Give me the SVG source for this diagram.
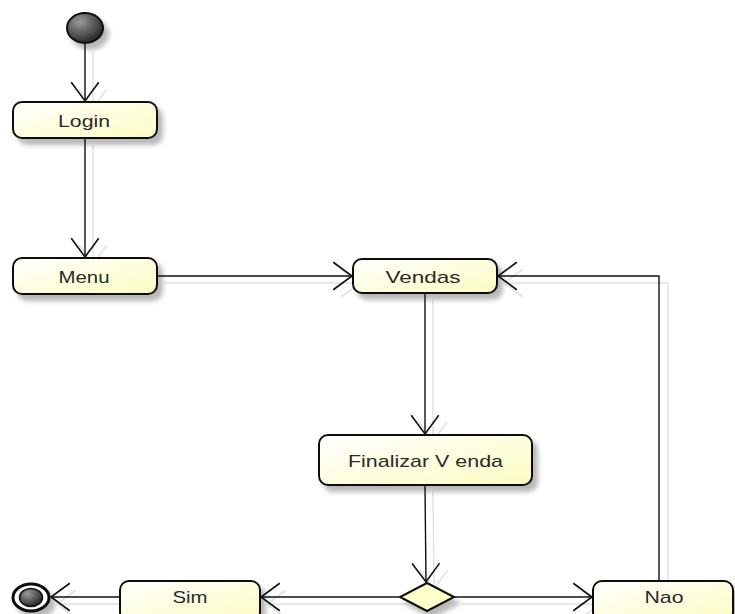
<svg xmlns="http://www.w3.org/2000/svg" width="735" height="614" viewBox="0 0 735 614">
<defs>
<linearGradient id="boxg" x1="0" y1="0" x2="1" y2="1">
<stop offset="0" stop-color="#ffffff"/>
<stop offset="0.5" stop-color="#fefee0"/>
<stop offset="1" stop-color="#fbfbc4"/>
</linearGradient>
<radialGradient id="ballg" cx="0.35" cy="0.3" r="0.8">
<stop offset="0" stop-color="#9a9a9a"/>
<stop offset="1" stop-color="#1a1a1a"/>
</radialGradient>
<filter id="sh" x="-20%" y="-30%" width="150%" height="180%">
<feGaussianBlur in="SourceAlpha" stdDeviation="2.5"/>
<feOffset dx="5" dy="6" result="b"/>
<feComponentTransfer><feFuncA type="linear" slope="0.28"/></feComponentTransfer>
<feMerge><feMergeNode/><feMergeNode in="SourceGraphic"/></feMerge>
</filter>
<marker id="arr" markerUnits="userSpaceOnUse" markerWidth="30" markerHeight="30" viewBox="-16 -12 18 24" refX="0" refY="0" orient="auto">
<path d="M-15,-11 L0,0 L-15,11" fill="none" stroke="#111" stroke-width="1.3"/>
</marker>
<marker id="arrs" markerUnits="userSpaceOnUse" markerWidth="30" markerHeight="30" viewBox="-16 -12 18 24" refX="0" refY="0" orient="auto">
<path d="M-15,-11 L0,0 L-15,11" fill="none" stroke="#e2e2e2" stroke-width="1.3"/>
</marker>
</defs>
<style>
.box{fill:url(#boxg);stroke:#111;stroke-width:2;filter:url(#sh)}
.lbl{font-family:"Liberation Sans",Arial,sans-serif;font-size:17px;fill:#2a2a2a;text-anchor:middle}
.c{fill:none;stroke:#111;stroke-width:1.4;marker-end:url(#arr)}
.cs{fill:none;stroke:#e0e0e0;stroke-width:1.4;marker-end:url(#arrs)}
</style>
<rect width="735" height="614" fill="#fff"/>
<g id="connector-shadows">
<path class="cs" d="M93,52 L93,108"/>
<path class="cs" d="M93,145 L93,264"/>
<path class="cs" d="M164,283 L360,283"/>
<path class="cs" d="M433,300 L433,441"/>
<path class="cs" d="M433,492 L434,589"/>
<path class="cs" d="M461,604 L600,604"/>
<path class="cs" d="M407,604 L267,604"/>
<path class="cs" d="M127,604 L57,604"/>
<path class="cs" d="M668,588 L668,283 L504,283"/>
</g>
<g id="start"><ellipse cx="85" cy="28" rx="18" ry="15" fill="url(#ballg)" stroke="#111" stroke-width="2" filter="url(#sh)"/></g>
<g id="login"><rect class="box" x="13" y="102" width="144" height="36" rx="9"/><text class="lbl" x="84" y="127" textLength="52" lengthAdjust="spacingAndGlyphs">Login</text></g>
<g id="menu"><rect class="box" x="13" y="258" width="144" height="36" rx="9"/><text class="lbl" x="84" y="283" textLength="51" lengthAdjust="spacingAndGlyphs">Menu</text></g>
<g id="vendas"><rect class="box" x="353" y="259" width="144" height="34" rx="9"/><text class="lbl" x="423" y="283" textLength="75" lengthAdjust="spacingAndGlyphs">Vendas</text></g>
<g id="finalizar"><rect class="box" x="319" y="435" width="213" height="50" rx="9"/><text class="lbl" x="425.5" y="467" textLength="155" lengthAdjust="spacingAndGlyphs">Finalizar V enda</text></g>
<g id="decision"><path d="M427,583 L454,597 L427,611 L400,597 Z" fill="#fefecb" stroke="#111" stroke-width="2" filter="url(#sh)"/></g>
<g id="sim"><rect class="box" x="120" y="581" width="140" height="40" rx="9"/><text class="lbl" x="190" y="603" textLength="35" lengthAdjust="spacingAndGlyphs">Sim</text></g>
<g id="nao"><rect class="box" x="593" y="581" width="140" height="40" rx="9"/><text class="lbl" x="664" y="603" textLength="39" lengthAdjust="spacingAndGlyphs">Nao</text></g>
<g id="end"><ellipse cx="31" cy="597.5" rx="18" ry="13.5" fill="#fff" stroke="#111" stroke-width="3" filter="url(#sh)"/><ellipse cx="31" cy="597.5" rx="11.5" ry="9" fill="url(#ballg)" stroke="#111" stroke-width="1.5"/></g>
<g id="connectors">
<path class="c" d="M85,44 L85,101"/>
<path class="c" d="M85,139 L85,257"/>
<path class="c" d="M158,276 L352,276"/>
<path class="c" d="M425,294 L425,434"/>
<path class="c" d="M425,486 L426,582"/>
<path class="c" d="M455,597 L592,597"/>
<path class="c" d="M399,597 L261,597"/>
<path class="c" d="M119,597 L51,597"/>
<path class="c" d="M659,580 L659,276 L498,276"/>
</g>
</svg>
